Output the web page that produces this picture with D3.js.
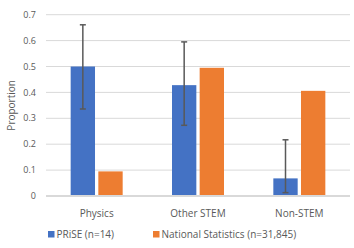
<!DOCTYPE html>
<html><head><meta charset="utf-8">
<script src="https://cdn.jsdelivr.net/npm/d3@7"></script>
<style>body{margin:0;background:#fff}svg{display:block}text{font-family:"Segoe UI","Open Sans",Calibri,"Noto Sans",sans-serif}</style>
</head><body><svg id="c" width="354" height="248"></svg>
<script>
const categories = ["Physics", "Other STEM", "Non-STEM"];
const seriesNames = ["PRiSE (n=14)", "National Statistics (n=31,845)"];
const prise = [0.5, 0.428, 0.068];
const priseErrLow = [0.336, 0.273, 0.013];
const priseErrHigh = [0.661, 0.595, 0.217];
const national = [0.095, 0.495, 0.406];
const yTicks = [0, 0.1, 0.2, 0.3, 0.4, 0.5, 0.6, 0.7];
const colors = ["#4472C4", "#ED7D31"];

const svg = d3.select("#c");
const x = d3.scaleBand().domain(categories).range([46, 350]);
const y = d3.scaleLinear().domain([0, 0.7]).range([196, 14.7]);
const inner = d3.scaleBand().domain([0,1]).range([0, 52]).paddingInner(0.12);

svg.append("g").selectAll("line").data(yTicks.filter(d=>d>0)).join("line")
  .attr("x1", 46).attr("x2", 350).attr("y1", d=>y(d)).attr("y2", d=>y(d))
  .attr("stroke", "#d9d9d9").attr("stroke-width", 1);

svg.append("g").selectAll("text").data(yTicks).join("text")
  .attr("x", 36).attr("y", d=>y(d)).attr("dy", "0.35em").attr("text-anchor","end")
  .attr("font-size", 9).attr("fill", "#595959").text(d=>d===0?"0":d.toFixed(1));

svg.append("text").attr("transform", `translate(15,${(y(0)+y(0.7))/2}) rotate(-90)`)
  .attr("text-anchor","middle").attr("font-size", 10).attr("fill","#595959").text("Proportion");

const data = [prise, national];
data.forEach((vals, s) => {
  svg.append("g").selectAll("rect").data(vals).join("rect")
    .attr("x", (d,i)=> x(categories[i]) + x.bandwidth()/2 - 26 + inner(s))
    .attr("width", inner.bandwidth())
    .attr("y", d=>y(d)).attr("height", d=>y(0)-y(d))
    .attr("fill", colors[s]);
});

svg.append("line").attr("x1", 46).attr("x2", 350).attr("y1", y(0)).attr("y2", y(0))
  .attr("stroke", "#d9d9d9").attr("stroke-width", 2);

const eg = svg.append("g").attr("stroke", "#595959").attr("stroke-width", 1.5);
categories.forEach((c, i) => {
  const cx = x(c) + x.bandwidth()/2 - 26 + inner(0) + inner.bandwidth()/2;
  eg.append("line").attr("x1", cx).attr("x2", cx).attr("y1", y(priseErrLow[i])).attr("y2", y(priseErrHigh[i]));
  [priseErrLow[i], priseErrHigh[i]].forEach(v => {
    eg.append("line").attr("x1", cx-3).attr("x2", cx+3).attr("y1", y(v)).attr("y2", y(v));
  });
});

svg.append("g").selectAll("text").data(categories).join("text")
  .attr("x", d=>x(d)+x.bandwidth()/2).attr("y", 217).attr("text-anchor","middle")
  .attr("font-size", 10).attr("fill","#595959").text(d=>d);

const legX = [48, 153];
seriesNames.forEach((n, s) => {
  svg.append("rect").attr("x", legX[s]).attr("y", 231).attr("width", 6.5).attr("height", 6.5).attr("fill", colors[s]);
  svg.append("text").attr("x", legX[s]+8.5).attr("y", 234.3).attr("dy","0.35em")
    .attr("font-size", 10).attr("fill","#595959").text(n);
});
</script></body></html>
